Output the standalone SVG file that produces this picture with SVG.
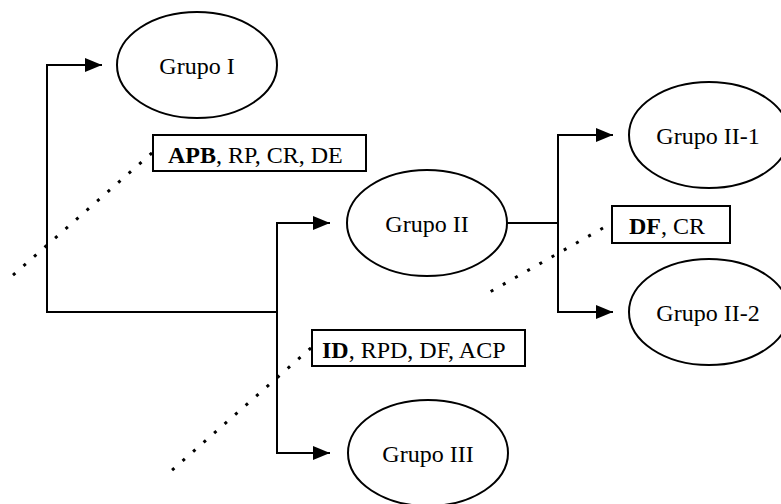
<svg xmlns="http://www.w3.org/2000/svg" width="781" height="504" viewBox="0 0 781 504">
<style>
.node ellipse{fill:#fff;stroke:#000;stroke-width:2}
.lbl{font-family:"Liberation Serif","Times New Roman",serif;font-size:24px;fill:#000}
.box rect{fill:#fff;stroke:#000;stroke-width:2}
.conn path{fill:none;stroke:#000;stroke-width:2}
.dot{fill:none;stroke:#000;stroke-width:3;stroke-dasharray:3 11}
</style>
<defs>
<marker id="arr" markerUnits="userSpaceOnUse" markerWidth="18" markerHeight="14" refX="17" refY="7" orient="auto">
<path d="M0,0 L17,7 L0,14 Z" fill="#000"/>
</marker>
</defs>
<rect width="781" height="504" fill="#fff"/>
<g id="connectors" class="conn">
<path d="M277,312 H47 V65 H102" marker-end="url(#arr)"/>
<path d="M277,312 V223 H330" marker-end="url(#arr)"/>
<path d="M277,312 V453 H330" marker-end="url(#arr)"/>
<path d="M507,223 H558"/>
<path d="M558,223 V135 H613" marker-end="url(#arr)"/>
<path d="M558,223 V312 H613" marker-end="url(#arr)"/>
</g>
<g id="annotations">
<path class="dot" d="M152,153 L12,276"/>
<path class="dot" d="M311,348 L170,472"/>
<path class="dot" d="M603,228 L488,293"/>
</g>
<g id="grupo-i" class="node"><ellipse cx="197" cy="65" rx="80" ry="53"/><text class="lbl" x="197" y="74" text-anchor="middle">Grupo I</text></g>
<g id="grupo-ii" class="node"><ellipse cx="427" cy="223" rx="80" ry="53"/><text class="lbl" x="427" y="232" text-anchor="middle">Grupo II</text></g>
<g id="grupo-iii" class="node"><ellipse cx="428" cy="453" rx="80" ry="53"/><text class="lbl" x="428" y="462" text-anchor="middle">Grupo III</text></g>
<g id="grupo-ii-1" class="node"><ellipse cx="709" cy="135" rx="80" ry="53"/><text class="lbl" x="708" y="144" text-anchor="middle">Grupo II-1</text></g>
<g id="grupo-ii-2" class="node"><ellipse cx="709" cy="312" rx="80" ry="53"/><text class="lbl" x="708" y="321" text-anchor="middle">Grupo II-2</text></g>
<g id="label-apb" class="box"><rect x="153" y="135" width="213" height="36"/><text class="lbl" x="168" y="163"><tspan font-weight="bold">APB</tspan>, RP, CR, DE</text></g>
<g id="label-id" class="box"><rect x="312" y="330" width="213" height="36"/><text class="lbl" x="322" y="358"><tspan font-weight="bold">ID</tspan>, RPD, DF, ACP</text></g>
<g id="label-df" class="box"><rect x="612" y="206" width="118" height="37"/><text class="lbl" x="629" y="234"><tspan font-weight="bold">DF</tspan>, CR</text></g>
</svg>
